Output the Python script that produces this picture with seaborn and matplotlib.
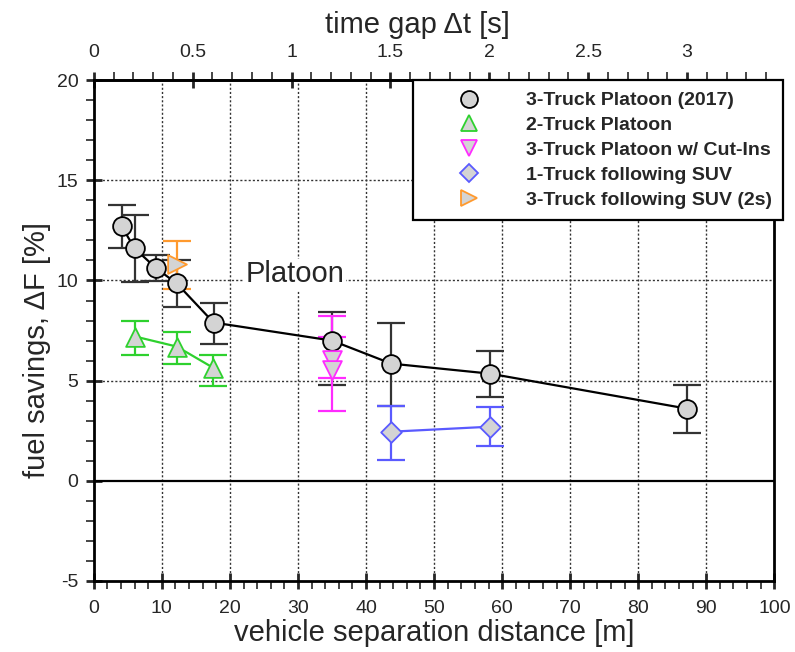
import numpy as np
import matplotlib
matplotlib.use("Agg")
import matplotlib.pyplot as plt
from matplotlib.lines import Line2D
from matplotlib.ticker import MultipleLocator, FixedLocator, FuncFormatter
import seaborn as sns

sns.set_theme(style="ticks")
plt.rcParams['font.family'] = ['Liberation Sans', 'DejaVu Sans']
plt.rcParams['axes.unicode_minus'] = False

# speed used to convert separation (m) into time gap (s)
speed = 29.06

# 3-Truck Platoon (2017)
p3_x = [4.1, 6.0, 9.2, 12.2, 17.6, 35.0, 43.7, 58.2, 87.2]
p3_y = [12.7, 11.6, 10.6, 9.85, 7.9, 7.0, 5.85, 5.35, 3.6]
p3_lo = [11.6, 9.9, 9.95, 8.7, 6.85, 4.8, 3.75, 4.2, 2.4]
p3_hi = [13.75, 13.25, 11.25, 11.0, 8.9, 8.45, 7.9, 6.5, 4.8]

# 2-Truck Platoon
p2_x = [6.1, 12.2, 17.5]
p2_y = [7.2, 6.7, 5.65]
p2_lo = [6.3, 5.85, 4.75]
p2_hi = [8.0, 7.45, 6.3]

# 3-Truck Platoon w/ Cut-Ins
cut_x = [35.0, 35.0]
cut_y = [6.05, 5.55]
cut_lo = [5.15, 3.5]
cut_hi = [7.2, 8.25]

# 1-Truck following SUV
suv1_x = [43.7, 58.2]
suv1_y = [2.45, 2.7]
suv1_lo = [1.05, 1.75]
suv1_hi = [3.75, 3.7]

# 3-Truck following SUV (2s)
suv3_x = [12.2]
suv3_y = [10.8]
suv3_lo = [9.6]
suv3_hi = [11.95]

labels = ['3-Truck Platoon (2017)', '2-Truck Platoon', '3-Truck Platoon w/ Cut-Ins',
          '1-Truck following SUV', '3-Truck following SUV (2s)']
top_ticks = [0, 0.5, 1, 1.5, 2, 2.5, 3]

fill = '#d4d4d4'
series = [
    (p3_x, p3_y, p3_lo, p3_hi, 'o', 'black', '#333333', '-'),
    (p2_x, p2_y, p2_lo, p2_hi, '^', '#2ed12e', '#2ed12e', '-'),
    (cut_x, cut_y, cut_lo, cut_hi, 'v', '#ff2bff', '#ff2bff', 'none'),
    (suv1_x, suv1_y, suv1_lo, suv1_hi, 'D', '#5a5aff', '#5a5aff', '-'),
    (suv3_x, suv3_y, suv3_lo, suv3_hi, '>', '#ff9a2e', '#ff9a2e', 'none'),
]
msizes = {'o': 13.5, '^': 13.5, 'v': 13.5, 'D': 10.5, '>': 13.5}

fig = plt.figure(figsize=(7.95, 6.52), dpi=100)
ax = fig.add_axes([0.118, 0.109, 0.856, 0.768])

# grid + zero line
for gx in range(10, 100, 10):
    ax.axvline(gx, color='#333333', lw=1.0, ls=(0, (1.5, 1.5)), zorder=0)
for gy in [5, 10, 15]:
    ax.axhline(gy, color='#333333', lw=1.0, ls=(0, (1.5, 1.5)), zorder=0)
ax.axhline(0, color='black', lw=1.6, zorder=1)

handles = []
for (x, y, lo, hi, mk, ec, errc, ls), lab in zip(series, labels):
    x = np.array(x); y = np.array(y)
    yerr = [y - np.array(lo), np.array(hi) - y]
    ax.errorbar(x, y, yerr=yerr, fmt='none', ecolor=errc, elinewidth=1.6,
                capsize=10, capthick=1.6, zorder=2)
    if ls != 'none' and len(x) > 1:
        sns.lineplot(x=x, y=y, ax=ax, color=ec, lw=1.6, sort=False,
                     estimator=None, zorder=3)
    sns.scatterplot(x=x, y=y, ax=ax, marker=mk, s=msizes[mk] ** 2, color=fill,
                    edgecolor=ec, linewidth=1.3, zorder=4)
    handles.append(Line2D([], [], marker=mk, ls='none', ms=msizes[mk] * 0.9,
                          mfc=fill, mec=ec, mew=1.3))

ax.set_xlim(0, 100)
ax.set_ylim(-5, 20)
ax.xaxis.set_major_locator(MultipleLocator(10))
ax.xaxis.set_minor_locator(MultipleLocator(2))
ax.yaxis.set_major_locator(MultipleLocator(5))
ax.yaxis.set_minor_locator(MultipleLocator(1))
ax.tick_params(which='major', direction='inout', length=12, width=2, labelsize=14, pad=5)
ax.tick_params(axis='x', which='major', pad=8)
ax.tick_params(which='minor', direction='out', length=6, width=1.2)
ax.tick_params(top=False, right=False)
for sp in ax.spines.values():
    sp.set_linewidth(2)
    sp.set_color('black')

ax.set_xlabel('vehicle separation distance [m]', fontsize=21, labelpad=1)
ax.set_ylabel('fuel savings, ΔF [%]', fontsize=21, labelpad=4)
ax.yaxis.label.set_y(0.462)

top = ax.secondary_xaxis('top', functions=(lambda d: d / speed, lambda t: t * speed))
top.xaxis.set_major_locator(FixedLocator(top_ticks))
top.xaxis.set_minor_locator(FixedLocator(np.arange(0, 3.45, 0.1)))
top.tick_params(which='major', direction='inout', length=12, width=2, labelsize=14, pad=8)
top.tick_params(which='minor', direction='out', length=6, width=1.2)
top.xaxis.set_major_formatter(FuncFormatter(lambda v, p: f'{v:g}'))
top.spines['top'].set_linewidth(2)
top.set_xlabel('time gap Δt [s]', fontsize=21, labelpad=8)
top.xaxis.label.set_x(0.476)

ax.text(29.6, 10.3, 'Platoon', fontsize=21, ha='center', va='center', zorder=5,
        bbox=dict(facecolor='white', edgecolor='none', pad=1))

leg = ax.legend(handles, labels, loc='upper left', bbox_to_anchor=(0.469, 1.0),
                borderaxespad=0, frameon=True, fancybox=False, framealpha=1,
                edgecolor='black', prop={'weight': 'bold', 'size': 14},
                handlelength=4.6, handletextpad=0.6, labelspacing=0.37,
                borderpad=0.6)
leg.get_frame().set_linewidth(1.6)
leg.set_zorder(10)

fig.savefig('out.png', dpi=100)
